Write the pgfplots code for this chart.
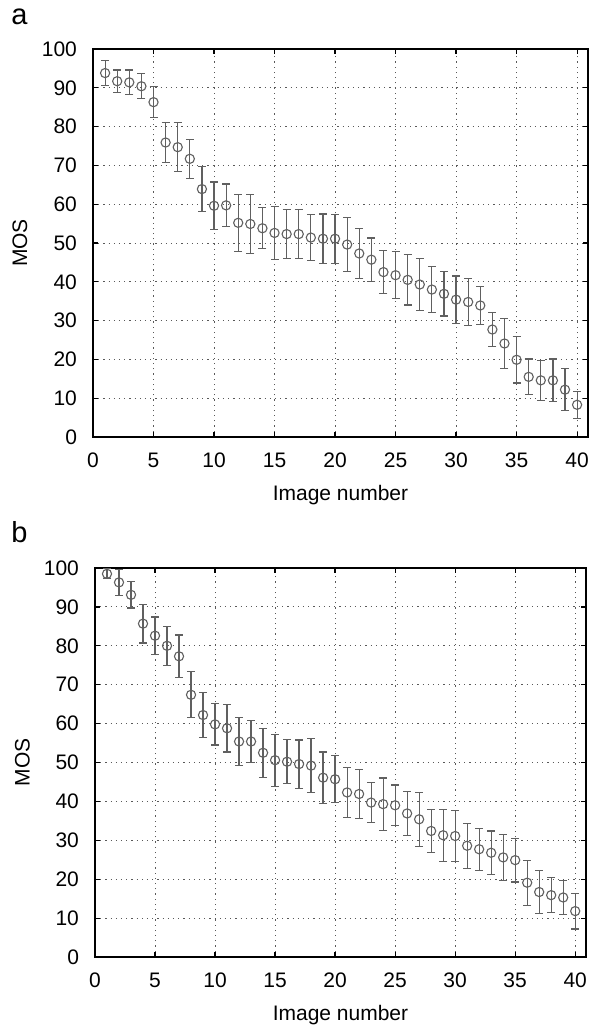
\documentclass[border=0pt]{standalone}
\usepackage{fontspec}
\setmainfont{Liberation Sans}
\usepackage{pgfplots}
\usepackage{pgfplotstable}
\pgfplotsset{compat=1.18}

\pgfplotstableread{
x y e
1 93.8 3.2
2 91.7 2.9
3 91.4 3.2
4 90.4 3.2
5 86.3 4.0
6 75.9 5.1
7 74.7 6.3
8 71.7 5.0
9 63.9 5.8
10 59.6 6.1
11 59.7 5.5
12 55.2 7.3
13 54.9 7.7
14 53.8 5.3
15 52.6 6.9
16 52.3 6.3
17 52.3 6.3
18 51.4 6.0
19 51.1 6.4
20 51.1 6.3
21 49.6 6.9
22 47.3 6.4
23 45.7 5.6
24 42.5 5.6
25 41.7 6.1
26 40.5 6.5
27 39.3 6.7
28 38.0 6.0
29 36.9 5.7
30 35.4 6.1
31 34.8 6.0
32 33.9 4.9
33 27.7 4.4
34 24.1 6.5
35 19.9 6.0
36 15.5 4.6
37 14.6 5.1
38 14.6 5.5
39 12.2 5.4
40 8.3 3.5
}\dataa

\pgfplotstableread{
x y e
1 98.5 1.3
2 96.3 3.4
3 93.1 3.4
4 85.7 5.0
5 82.6 4.8
6 80.0 5.0
7 77.3 5.5
8 67.4 5.9
9 62.2 5.8
10 59.8 5.3
11 58.8 6.1
12 55.4 6.2
13 55.4 5.3
14 52.5 6.3
15 50.6 6.7
16 50.2 5.7
17 49.6 6.2
18 49.2 6.9
19 46.1 6.6
20 45.7 6.0
21 42.3 6.4
22 41.9 6.3
23 39.7 5.1
24 39.3 6.7
25 39.0 5.2
26 36.9 5.6
27 35.4 6.9
28 32.4 5.5
29 31.3 6.7
30 31.1 6.6
31 28.6 5.8
32 27.7 5.4
33 26.8 5.6
34 25.6 5.9
35 24.9 5.6
36 19.1 5.8
37 16.7 5.5
38 15.9 4.5
39 15.3 4.4
40 11.8 4.6
}\datab

\definecolor{markgray}{HTML}{606060}

\pgfplotsset{
  mosstyle/.style={
    scale only axis,
    width=247.5pt, height=194pt,
    xmin=0, xmax=40.9, ymin=0, ymax=100,
    xtick={0,5,...,40}, ytick={0,10,...,100},
    grid=major,
    major grid style={dash pattern=on 0.6pt off 2pt, black!65, line width=0.5pt},
    axis line style={black, line width=0.8pt},
    tick style={black, line width=0.6pt},
    major tick length=2.5pt,
    tick label style={font=\fontsize{10.5}{12}\selectfont},
    label style={font=\fontsize{10.5}{12}\selectfont},
    xticklabel style={yshift=-4.5pt},
    yticklabel style={xshift=-4.5pt},
    /pgf/number format/assume math mode=true,
    xlabel={Image number}, ylabel={MOS},
    xlabel style={at={(axis description cs:0.5,0)}, anchor=base, yshift=-31.5pt},
    ylabel style={at={(axis description cs:-0.133,0.5)}, anchor=base},
    anchor=south west,
  },
  errstyle/.style={
    only marks, mark=o, mark size=2.3pt,
    color=markgray, line width=0.55pt,
    error bars/.cd, y dir=both, y explicit,
    error bar style={line width=0.6pt, color=markgray},
    error mark options={rotate=90, mark size=2pt, line width=0.6pt, color=markgray},
  },
}

\begin{document}
\begin{tikzpicture}
\useasboundingbox (0,0) rectangle (300.5pt,512.5pt);
\node[anchor=base west, inner sep=0pt, font=\fontsize{14.5}{16}\selectfont] at (5.5pt,500pt) {a};
\node[anchor=base west, inner sep=0pt, font=\fontsize{14.5}{16}\selectfont] at (5.5pt,241pt) {b};

\begin{axis}[mosstyle, at={(46.5pt,294pt)}]
\addplot[errstyle] table[x=x, y=y, y error=e] {\dataa};
\end{axis}

\begin{axis}[mosstyle, at={(47.5pt,34pt)}, height=194.5pt, width=245.5pt]
\addplot[errstyle] table[x=x, y=y, y error=e] {\datab};
\end{axis}
\end{tikzpicture}
\end{document}
